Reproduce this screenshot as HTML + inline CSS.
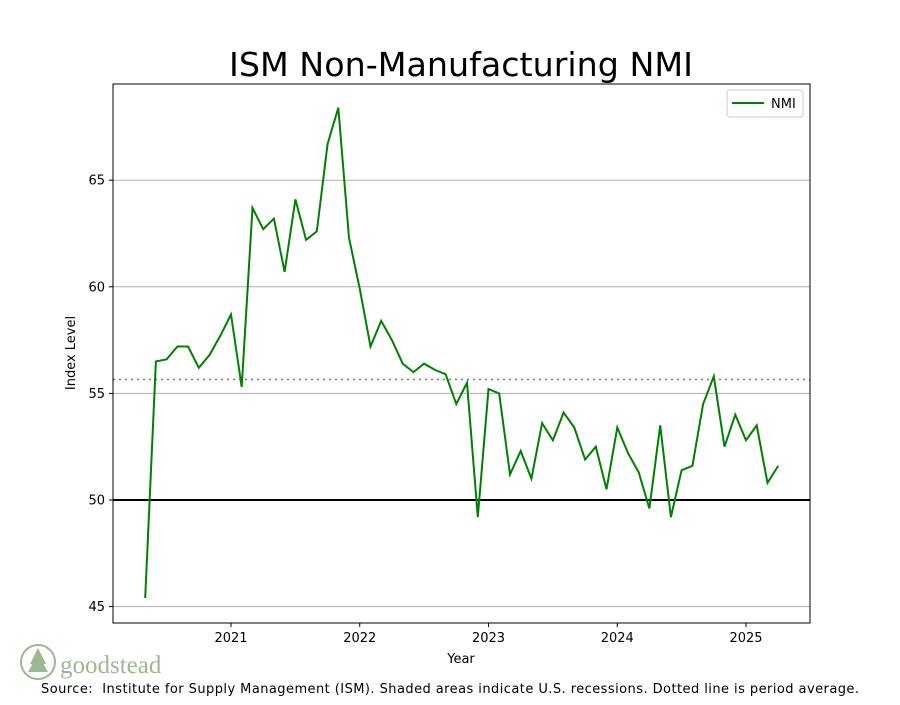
<!DOCTYPE html>
<html><head><meta charset="utf-8"><style>
body{margin:0;background:#fff;font-family:"Liberation Sans","DejaVu Sans",sans-serif}
</style></head><body>
<svg width="900" height="700" xmlns="http://www.w3.org/2000/svg" style="font-family:'DejaVu Sans','Liberation Sans',sans-serif">
<text x="461" y="76" font-size="33" text-anchor="middle" textLength="464" lengthAdjust="spacingAndGlyphs">ISM Non-Manufacturing NMI</text>
<g id="grid"></g>
<g id="ticks"></g>
<line x1="113" x2="810" y1="380" y2="380" stroke="#777" stroke-width="1.5" stroke-dasharray="2,4" id="avg"/>
<line x1="113" x2="810" y1="500" y2="500" stroke="#000" stroke-width="2" id="fifty"/>
<polyline id="nmi" fill="none" stroke="#008000" stroke-width="2"/>
<rect x="113" y="84" width="697" height="539" fill="none" stroke="#000" stroke-width="1"/>
<text x="75" y="353" font-size="13" text-anchor="middle" transform="rotate(-90 75 353)">Index Level</text>
<text x="461" y="663" font-size="13" text-anchor="middle">Year</text>
<g>
<rect x="727" y="90" width="76" height="27" fill="#fff" stroke="#ccc" rx="3"/>
<line x1="732" x2="764" y1="103" y2="103" stroke="#008000" stroke-width="2"/>
<text x="771" y="108" font-size="13">NMI</text>
</g>
<g>
<circle cx="38" cy="662" r="17" fill="none" stroke="#9cb890" stroke-width="2"/>
<path d="M38 648 L30 664 L46 664 Z M38 654 L28 672 L48 672 Z" fill="#9cb890"/>
<text x="60" y="673" font-size="25" fill="#9cb890" font-family="'Liberation Serif',serif">goodstead</text>
</g>
<text x="41" y="693" font-size="13" textLength="818" lengthAdjust="spacing" xml:space="preserve">Source:  Institute for Supply Management (ISM). Shaded areas indicate U.S. recessions. Dotted line is period average.</text>
</svg>
<script>
const startYear = 2020, startMonth = 4; // May 2020 (0-based month)
const nmiValues = [45.4,56.5,56.6,57.2,57.2,56.2,56.8,57.7,58.7,55.3,63.7,62.7,63.2,60.7,64.1,62.2,62.6,66.7,68.4,62.3,59.9,57.2,58.4,57.5,56.4,56.0,56.4,56.1,55.9,54.5,55.5,49.2,55.2,55.0,51.2,52.3,51.0,53.6,52.8,54.1,53.4,51.9,52.5,50.5,53.4,52.2,51.3,49.6,53.5,49.2,51.4,51.6,54.5,55.8,52.5,54.0,52.8,53.5,50.8,51.6];
const yTicks = [45,50,55,60,65];
const xTicks = [2021,2022,2023,2024,2025];
const averageValue = 55.65;
const NS="http://www.w3.org/2000/svg";
function yPos(v){return 500-(v-50)*21.32;}
function xPos(t){return 231+(t-2021)*128.75;}
const grid=document.getElementById('grid'), ticks=document.getElementById('ticks');
yTicks.forEach(v=>{
  const y=yPos(v);
  const l=document.createElementNS(NS,'line');
  l.setAttribute('x1',113);l.setAttribute('x2',810);l.setAttribute('y1',y);l.setAttribute('y2',y);
  l.setAttribute('stroke','#b0b0b0');l.setAttribute('stroke-width','1');
  
  
  grid.appendChild(l);
  const tk=document.createElementNS(NS,'line');
  tk.setAttribute('x1',109);tk.setAttribute('x2',113);tk.setAttribute('y1',y);tk.setAttribute('y2',y);tk.setAttribute('stroke','#000');
  ticks.appendChild(tk);
  const t=document.createElementNS(NS,'text');
  t.setAttribute('x',105);t.setAttribute('y',y+4.5);t.setAttribute('font-size','13');t.setAttribute('text-anchor','end');
  t.textContent=v;
  
  
  ticks.appendChild(t);
});
xTicks.forEach(v=>{
  const x=xPos(v);
  const tk=document.createElementNS(NS,'line');
  tk.setAttribute('x1',x);tk.setAttribute('x2',x);tk.setAttribute('y1',623);tk.setAttribute('y2',627);tk.setAttribute('stroke','#000');
  ticks.appendChild(tk);
  const t=document.createElementNS(NS,'text');
  t.setAttribute('x',x);t.setAttribute('y',642);t.setAttribute('font-size','13');t.setAttribute('text-anchor','middle');
  t.textContent=v;
  
  
  ticks.appendChild(t);
});
const avg=document.getElementById('avg');
avg.setAttribute('y1',yPos(averageValue));avg.setAttribute('y2',yPos(averageValue));
const f=document.getElementById('fifty');
f.setAttribute('y1',yPos(50));f.setAttribute('y2',yPos(50));
const pts=nmiValues.map((v,i)=>{const t=startYear+(startMonth+i)/12;return xPos(t).toFixed(1)+','+yPos(v).toFixed(1);});
document.getElementById('nmi').setAttribute('points',pts.join(' '));
</script>
</body></html>
